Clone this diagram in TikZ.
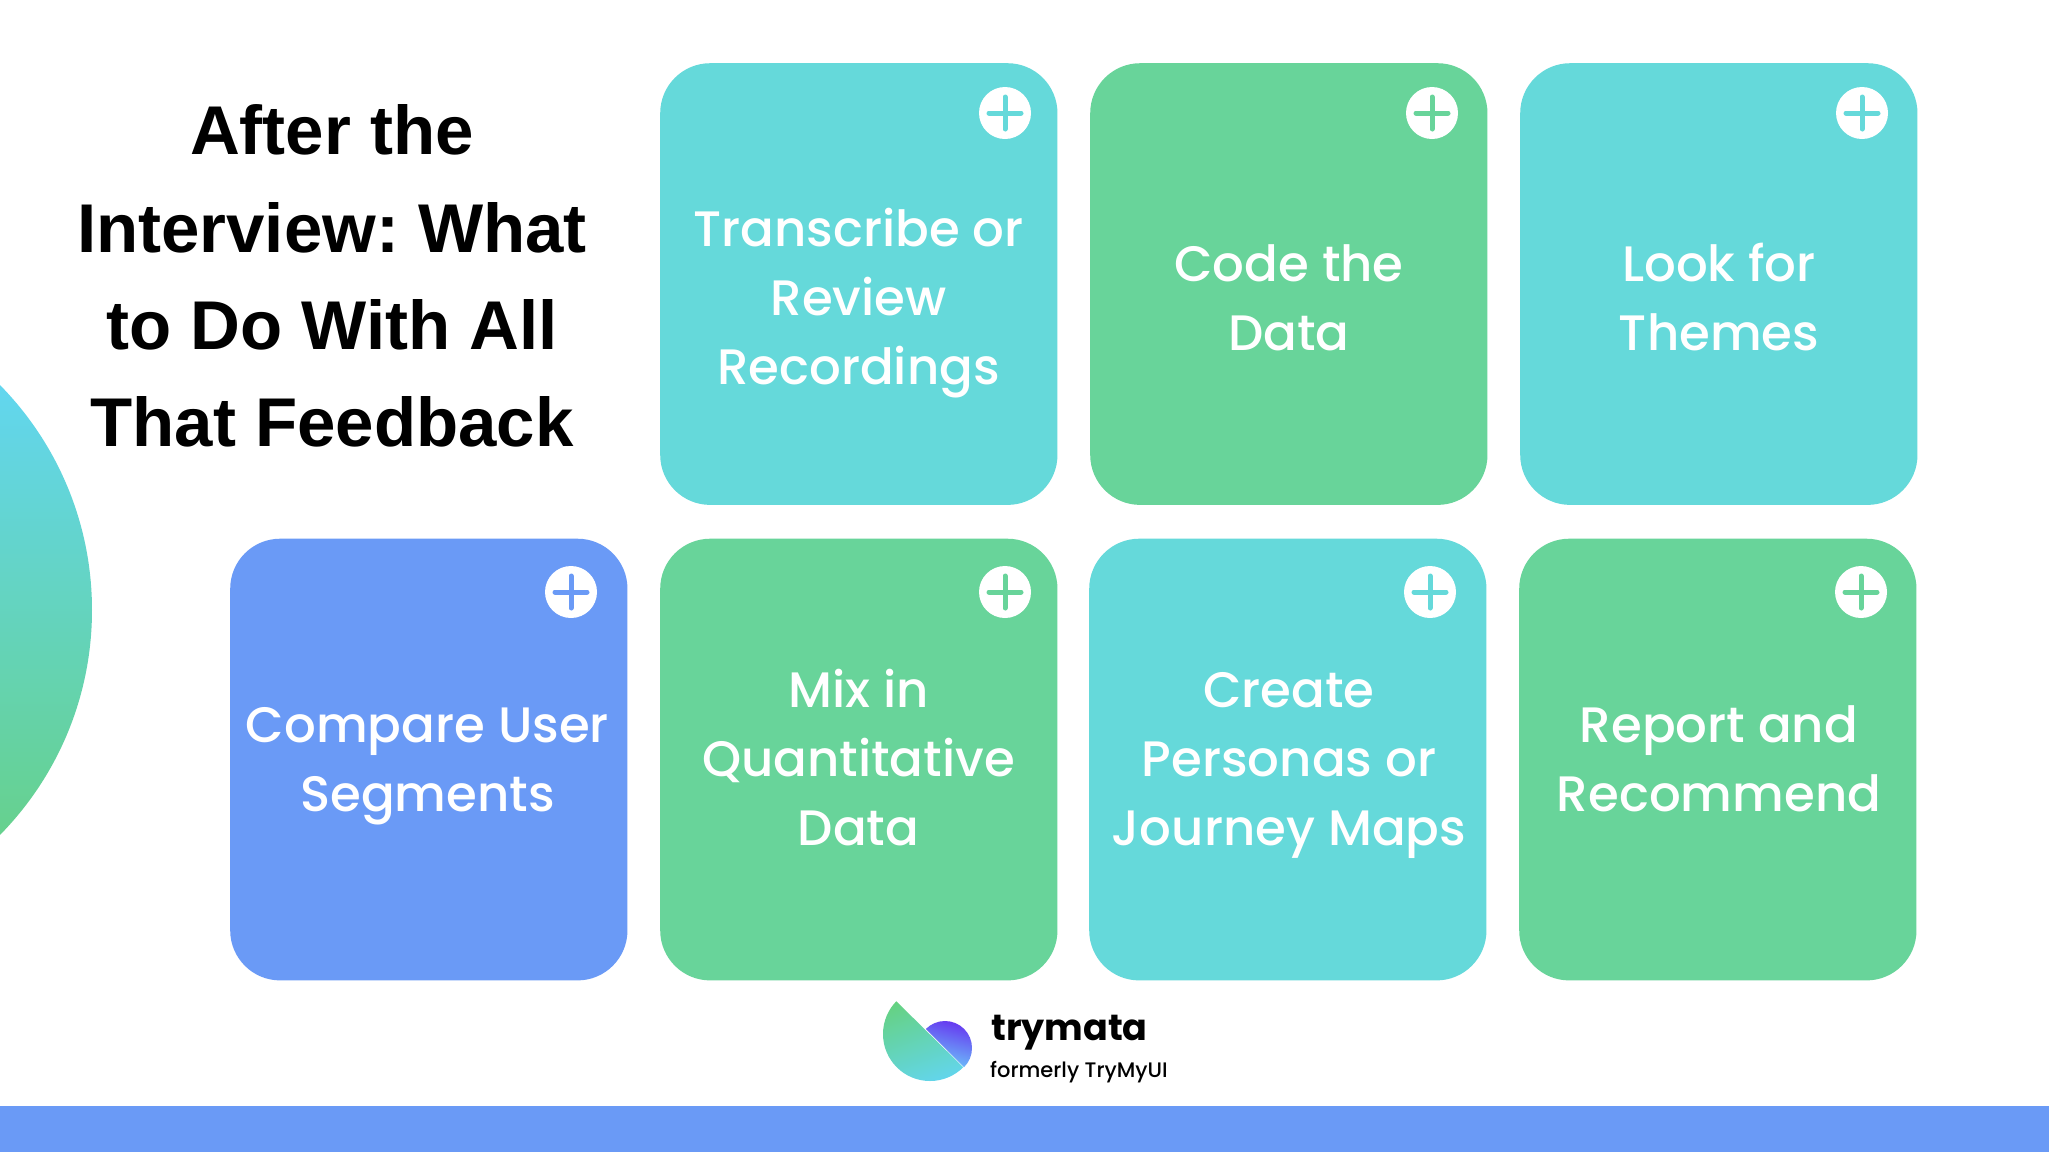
\documentclass[tikz,border=0pt]{standalone}
\usepackage{fontspec}
\setmainfont{Poppins}[BoldFont=* Bold]
\newfontfamily\popm{Poppins}[UprightFont=* Medium]
\newfontfamily\pops{Poppins}[UprightFont=* SemiBold]
\newfontfamily\headf{Liberation Sans}
\frenchspacing
\definecolor{teal}{HTML}{65D9DA}
\definecolor{grn}{HTML}{68D49A}
\definecolor{blu}{HTML}{6A9AF6}
\definecolor{discTop}{RGB}{98,214,240}
\definecolor{discBot}{RGB}{102,209,140}
\definecolor{logoA}{RGB}{102,209,112}
\definecolor{logoB}{RGB}{98,214,248}
\definecolor{logoC}{RGB}{102,56,240}
\definecolor{logoD}{RGB}{108,196,250}
\newcommand{\linestrut}{\rule[-17pt]{0pt}{69.3pt}}
\tikzset{
  card/.style={rounded corners=50pt,minimum width=304*1.3068pt,minimum height=338*1.3068pt,inner sep=0pt,anchor=north west},
  cardtext/.style={text=white,align=center,font=\popm\fontsize{49.8pt}{69.3pt}\selectfont,inner sep=0pt},
  title/.style={align=center,font=\headf\bfseries\fontsize{69pt}{97.2pt}\selectfont,inner sep=0pt},
  plusdisc/.style={circle,fill=white,minimum size=52pt,inner sep=0pt},
  plusbar/.style={line width=5pt,line cap=round}
}
\newcommand{\plusat}[3]{%
  \node[plusdisc] (#3) at (#1) {};
  \draw[plusbar,#2] ([xshift=-16pt]#3.center) -- ([xshift=16pt]#3.center);
  \draw[plusbar,#2] ([yshift=-16pt]#3.center) -- ([yshift=16pt]#3.center);
}
\begin{document}
\begin{tikzpicture}[x=1pt,y=-1pt]
\useasboundingbox (0,0) rectangle (2049,1152);
\fill[white] (0,0) rectangle (2049,1152);
% left disc
\begin{scope}
\clip (-229,610) circle (321);
\shade[top color=discTop,bottom color=discBot] (-10,380) rectangle (100,842);
\end{scope}
% bottom bar
\fill[blu] (0,1105.5) rectangle (2049,1152);
% cards
\node[card,fill=teal] (c1) at (660,63) {};
\node[card,fill=grn] (c2) at (1090,63) {};
\node[card,fill=teal] (c3) at (1520,63) {};
\node[card,fill=blu] (c4) at (230,538.5) {};
\node[card,fill=grn] (c5) at (660,538.5) {};
\node[card,fill=teal] (c6) at (1089,538.5) {};
\node[card,fill=grn] (c7) at (1519,538.5) {};
% plus icons
\plusat{1005,113}{teal}{p1}
\plusat{1432,113}{grn}{p2}
\plusat{1862,113}{teal}{p3}
\plusat{571,592}{blu}{p4}
\plusat{1005,592}{grn}{p5}
\plusat{1430,592}{teal}{p6}
\plusat{1861,592}{grn}{p7}
% card text
\node[cardtext] (t1) at (858.5,298) {\linestrut Transcribe or\\\linestrut Review\\\linestrut Recordings};
\node[cardtext] (t2) at (1289,298) {\linestrut Code the\\\linestrut Data};
\node[cardtext] (t3) at (1719,298) {\linestrut Look for\\\linestrut Themes};
\node[cardtext] (t4) at (427.5,759) {\linestrut Compare User\\\linestrut Segments};
\node[cardtext] (t5) at (858.5,759) {\linestrut Mix in\\\linestrut Quantitative\\\linestrut Data};
\node[cardtext] (t6) at (1289,759) {\linestrut Create\\\linestrut Personas or\\\linestrut Journey Maps};
\node[cardtext] (t7) at (1719,759) {\linestrut Report and\\\linestrut Recommend};
% title
\node[title] (head) at (332,276) {After the\\Interview: What\\to Do With All\\That Feedback};
% logo
\begin{scope}
\clip (896,1001) -- (963,1067) -- ++(66,66) -- ++(-200,0) -- ++(0,-200) -- ++(100,0) -- cycle;
\clip (930,1034) circle (47);
\shade[top color=logoA,bottom color=logoB,shading angle=20] (870,980) rectangle (990,1090);
\end{scope}
\begin{scope}
\clip (926,1029) -- (964,1067) -- ++(60,0) -- ++(0,-100) -- ++(-98,0) -- cycle;
\clip (945,1048) circle (27);
\shade[left color=logoC,right color=logoD,shading angle=-15] (926,1021) rectangle (972,1067);
\end{scope}
\node[anchor=base west,inner sep=0pt,font=\bfseries\fontsize{36.5pt}{38pt}\selectfont] (l1) at (991,1040) {trymata};
\node[anchor=base west,inner sep=0pt,font=\popm\fontsize{21pt}{24pt}\selectfont] (l2) at (990,1077) {formerly TryMyUI};
\end{tikzpicture}
\end{document}
